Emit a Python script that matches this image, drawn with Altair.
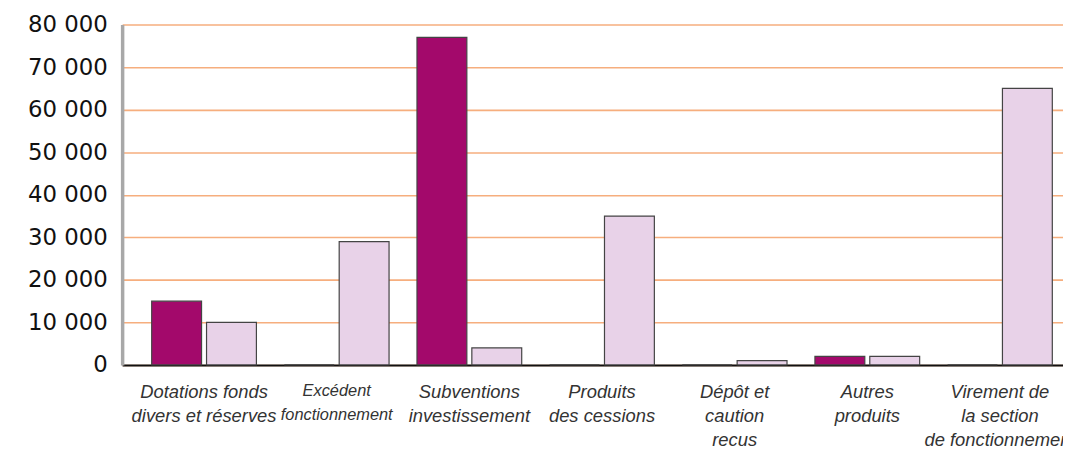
import altair as alt
import pandas as pd

categories = [
    "Dotations fonds\ndivers et réserves",
    "Excédent\nfonctionnement",
    "Subventions\ninvestissement",
    "Produits\ndes cessions",
    "Dépôt et\ncaution\nrecus",
    "Autres\nproduits",
    "Virement de\nla section\nde fonctionnement",
]
series_names = ["Série 1", "Série 2"]
serie_1 = [15000, 0, 77000, 0, 0, 2000, 0]
serie_2 = [10000, 29000, 4000, 35000, 1000, 2000, 65000]
y_ticks = [0, 10000, 20000, 30000, 40000, 50000, 60000, 70000, 80000]

rows = []
for i, c in enumerate(categories):
    rows.append({"cat": c, "serie": series_names[0], "val": serie_1[i]})
    rows.append({"cat": c, "serie": series_names[1], "val": serie_2[i]})
df = pd.DataFrame(rows)

chart = alt.Chart(df).mark_bar(stroke="#444444", strokeWidth=1.2).encode(
    x=alt.X(
        "cat:N",
        sort=categories,
        title=None,
        scale=alt.Scale(paddingInner=0, paddingOuter=0.1175),
        axis=alt.Axis(
            labelAngle=0,
            labelExpr="split(datum.label, '\\n')",
            labelFont="Liberation Sans",
            labelFontStyle="italic",
            labelFontSize={"expr": "indexof(datum.label, 'Excédent') >= 0 ? 16.5 : 18.5"},
            labelColor="#333333",
            labelLineHeight=24,
            labelPadding=18,
            labelBaseline="top",
            ticks=False,
            domainColor="#111111",
            domainWidth=2,
            grid=False,
        ),
    ),
    xOffset=alt.XOffset(
        "serie:N",
        sort=series_names,
        scale=alt.Scale(paddingInner=0.0909, paddingOuter=0.2545),
    ),
    y=alt.Y(
        "val:Q",
        title=None,
        scale=alt.Scale(domain=[0, 80000], nice=False),
        axis=alt.Axis(
            values=y_ticks,
            labelExpr="replace(format(datum.value, ','), ',', ' ')",
            labelFont="DejaVu Sans",
            labelFontSize=23,
            labelColor="#111111",
            labelPadding=15,
            ticks=False,
            domainColor="#A8A8A8",
            domainWidth=3.5,
            gridColor="#F6AE7E",
            gridWidth=1.6,
            gridOpacity=1,
        ),
    ),
    color=alt.Color(
        "serie:N",
        sort=series_names,
        scale=alt.Scale(domain=series_names, range=["#A3096B", "#E8D2E8"]),
        legend=None,
    ),
).properties(
    width=967,
    height=343,
    autosize=alt.AutoSizeParams(type="none"),
    padding={"left": 115, "top": 15, "right": -19, "bottom": 84},
).configure_view(stroke=None)

chart.save("out.html", embed_options={"renderer": "svg", "actions": False})
